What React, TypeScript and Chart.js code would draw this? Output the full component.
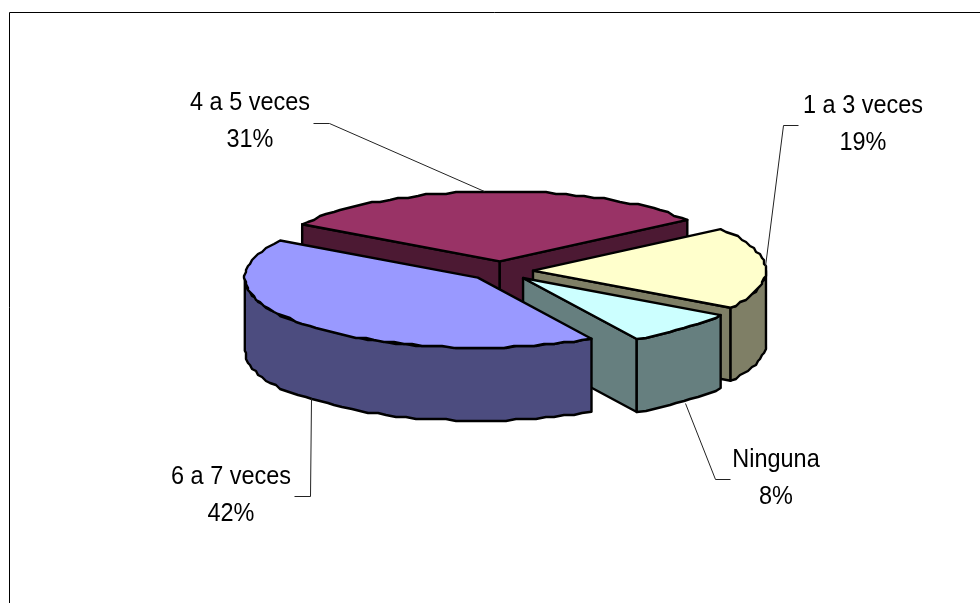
import React, { useEffect, useRef } from "react";
import { Chart, ArcElement, PieController } from "chart.js";

// Chart content
const categories = ["4 a 5 veces", "1 a 3 veces", "Ninguna", "6 a 7 veces"];
const shares = [31, 19, 8, 42];
const faceColors = ["#993366", "#FFFFCC", "#CCFFFF", "#9999FF"];

// Annotation placement: text centre and two baselines, then the leader line for each slice
const labelCentres = [250, 863, 776, 231];
const labelBaselines = [
  [110, 147],
  [113, 150],
  [467, 504],
  [484, 521],
];
const leaderLines = [
  [[313, 123], [329, 123], [484, 191]],
  [[798, 125], [783, 125], [765, 266]],
  [[730, 479], [715, 479], [685, 403]],
  [[294, 496], [310, 496], [311, 398]],
];

const TILT = 70 / 233; // vertical squash of the pie disc
const DEPTH = 73; // height of the extruded wall
const RIM_GRID = 2; // the rim is a coarse polyline snapped to this grid
const RIM_STEP = (2.5 * Math.PI) / 180;
const LABEL_WIDTH_SCALE = 0.92; // labels are set slightly condensed

const halve = (hex: string) => {
  const n = parseInt(hex.slice(1), 16);
  const c = [(n >> 16) & 255, (n >> 8) & 255, n & 255].map((v) => v >> 1);
  return `rgb(${c[0]},${c[1]},${c[2]})`;
};

// Arc that paints itself as an exploded, extruded wedge of a tilted disc
class TiltedArc extends ArcElement {
  static id = "tiltedArc";

  draw(ctx: CanvasRenderingContext2D) {
    const { x, y, startAngle, endAngle, outerRadius } = this as any;
    const o = (this as any).options;
    const mid = (startAngle + endAngle) / 2;
    const cx = x + Math.cos(mid) * o.offset;
    const cy = y + Math.sin(mid) * o.offset * TILT;
    const at = (a: number): [number, number] => [
      cx + outerRadius * Math.cos(a),
      cy + outerRadius * Math.sin(a) * TILT,
    ];
    const rim = (a0: number, a1: number) => {
      const pts: [number, number][] = [at(a0)];
      const n = Math.max(1, Math.round((a1 - a0) / RIM_STEP));
      for (let i = 1; i < n; i++) {
        const [px, py] = at(a0 + ((a1 - a0) * i) / n);
        pts.push([
          Math.round(px / RIM_GRID) * RIM_GRID,
          Math.round(py / RIM_GRID) * RIM_GRID,
        ]);
      }
      pts.push(at(a1));
      return pts;
    };
    const paint = (pts: [number, number][], fill: string) => {
      ctx.beginPath();
      pts.forEach(([px, py], i) => (i ? ctx.lineTo(px, py) : ctx.moveTo(px, py)));
      ctx.closePath();
      ctx.fillStyle = fill;
      ctx.fill();
      ctx.stroke();
    };
    const down = (pts: [number, number][]) =>
      pts.map(([px, py]) => [px, py + DEPTH] as [number, number]).reverse();

    ctx.save();
    ctx.strokeStyle = o.borderColor;
    ctx.lineWidth = o.borderWidth;
    ctx.lineJoin = "round";
    const side = halve(o.backgroundColor);
    const tip: [number, number] = [cx, cy];

    // straight walls facing the viewer
    if (Math.cos(startAngle) < 0) {
      const e: [number, number][] = [tip, at(startAngle)];
      paint([...e, ...down(e)], side);
    }
    if (Math.cos(endAngle) > 0) {
      const e: [number, number][] = [tip, at(endAngle)];
      paint([...e, ...down(e)], side);
    }
    // outer wall, only where the rim faces the viewer
    for (let k = 0; k < 3; k++) {
      const lo = Math.max(startAngle, 2 * Math.PI * k);
      const hi = Math.min(endAngle, 2 * Math.PI * k + Math.PI);
      if (hi > lo) {
        const r = rim(lo, hi);
        paint([...r, ...down(r)], side);
      }
    }
    // top face
    paint([tip, ...rim(startAngle, endAngle)], o.backgroundColor);
    ctx.restore();
  }
}

class TiltedPieController extends PieController {
  static id = "tiltedPie";
  static defaults = { ...PieController.defaults, dataElementType: "tiltedArc" };
}

Chart.register(TiltedArc, TiltedPieController);

const annotations = {
  id: "annotations",
  afterDraw(chart: Chart) {
    const ctx = chart.ctx;
    ctx.save();
    // open frame along the top and left
    ctx.strokeStyle = "#000";
    ctx.lineWidth = 1;
    ctx.beginPath();
    ctx.moveTo(9.5, 603);
    ctx.lineTo(9.5, 12.5);
    ctx.lineTo(980, 12.5);
    ctx.stroke();

    ctx.strokeStyle = "#222";
    leaderLines.forEach((line) => {
      ctx.beginPath();
      line.forEach(([px, py], i) =>
        i ? ctx.lineTo(px + 0.5, py + 0.5) : ctx.moveTo(px + 0.5, py + 0.5)
      );
      ctx.stroke();
    });

    ctx.fillStyle = "#000";
    ctx.font = '25.5px "Liberation Sans"';
    ctx.textAlign = "center";
    ctx.textBaseline = "alphabetic";
    const put = (text: string, px: number, py: number) => {
      ctx.save();
      ctx.translate(px, py);
      ctx.scale(LABEL_WIDTH_SCALE, 1);
      ctx.fillText(text, 0, 0);
      ctx.restore();
    };
    categories.forEach((name, i) => {
      put(name, labelCentres[i], labelBaselines[i][0]);
      put(`${shares[i]}%`, labelCentres[i], labelBaselines[i][1]);
    });
    ctx.restore();
  },
};

export default function App() {
  const ref = useRef<HTMLCanvasElement>(null);
  useEffect(() => {
    document.body.style.margin = "0";
    document.body.style.background = "#fff";
    const chart = new Chart(ref.current!, {
      type: "tiltedPie" as any,
      data: {
        labels: categories,
        datasets: [
          {
            data: shares,
            backgroundColor: faceColors,
            borderColor: "#000",
            borderWidth: 2.4,
            offset: 32,
            radius: 233,
          } as any,
        ],
      },
      options: {
        responsive: false,
        animation: false,
        rotation: 302,
        layout: { padding: { left: 22, bottom: 61 } },
        plugins: { legend: { display: false }, tooltip: { enabled: false } },
      } as any,
      plugins: [annotations],
    });
    return () => chart.destroy();
  }, []);
  return (
    <canvas ref={ref} width={980} height={603} style={{ display: "block", width: 980, height: 603 }} />
  );
}
